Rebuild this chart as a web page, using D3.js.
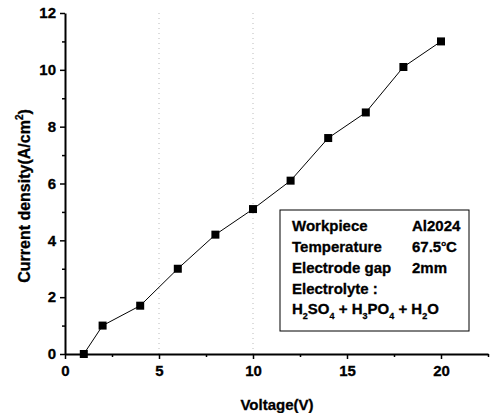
<!DOCTYPE html>
<html>
<head>
<meta charset="utf-8">
<script src="https://cdn.jsdelivr.net/npm/d3@7"></script>
<style>
  body { margin: 0; background: #fff; }
  text { font-family: "Liberation Sans", Arial, sans-serif; font-weight: bold; fill: #000; stroke: #000; stroke-width: 0.3px; }
</style>
</head>
<body>
<svg id="chart"></svg>
<script>
const width = 495;
const height = 413;

// data
const voltage = [1, 2, 4, 6, 8, 10, 12, 14, 16, 18, 20];
const current = [0, 1, 1.7, 3, 4.2, 5.1, 6.1, 7.6, 8.5, 10.1, 11];
const xTicks = [0, 5, 10, 15, 20];
const yTicks = [0, 2, 4, 6, 8, 10, 12];
const legendRows = [
    ["Workpiece", "Al2024"],
    ["Temperature", "67.5\u00B0C"],
    ["Electrode gap", "2mm"],
    ["Electrolyte :", ""]
];

const margin = { left: 65, right: 7, top: 13, bottom: 59 };

const svg = d3.select("#chart")
    .attr("width", width)
    .attr("height", height);

const x = d3.scaleLinear()
    .domain([0, 22.5])
    .range([margin.left, width - margin.right]);

const y = d3.scaleLinear()
    .domain([0, 12])
    .range([height - margin.bottom, margin.top]);

// faint dotted grid (as in the scan)
svg.selectAll("line.vgrid")
    .data([5, 10])
    .enter()
    .append("line")
    .attr("x1", d => x(d)).attr("x2", d => x(d))
    .attr("y1", y(12)).attr("y2", y(0))
    .attr("stroke", "#bbb")
    .attr("stroke-width", 1)
    .attr("stroke-dasharray", "1,4");

// x axis
svg.append("g")
    .attr("transform", `translate(0,${y(0)})`)
    .call(d3.axisBottom(x).tickValues(xTicks).tickSize(5).tickPadding(6).tickSizeOuter(0));

svg.append("g")
    .attr("transform", `translate(0,${y(0)})`)
    .call(d3.axisBottom(x).tickValues(d3.range(2.5, 22.6, 5)).tickSize(3).tickFormat("").tickSizeOuter(0))
    .select(".domain").remove();

// y axis
svg.append("g")
    .attr("transform", `translate(${x(0)},0)`)
    .call(d3.axisLeft(y).tickValues(yTicks).tickSize(5).tickPadding(4).tickSizeOuter(0));

svg.append("g")
    .attr("transform", `translate(${x(0)},0)`)
    .call(d3.axisLeft(y).tickValues(d3.range(1, 12, 2)).tickSize(3).tickFormat("").tickSizeOuter(0))
    .select(".domain").remove();

svg.selectAll(".domain").attr("stroke", "#000").attr("stroke-width", 2);
svg.selectAll(".tick line").attr("stroke", "#000").attr("stroke-width", 1.5);
svg.selectAll(".tick text")
    .style("font-family", "Liberation Sans, Arial, sans-serif")
    .style("font-weight", "bold")
    .style("font-size", "15px")
    .attr("fill", "#000");

// axis titles
svg.append("text")
    .attr("x", 277)
    .attr("y", 410)
    .attr("text-anchor", "middle")
    .style("font-size", "15px")
    .text("Voltage(V)");

const yTitle = svg.append("text")
    .attr("transform", "translate(30,196) rotate(-90)")
    .attr("text-anchor", "middle")
    .style("font-size", "16px");
yTitle.append("tspan").text("Current density(A/cm");
yTitle.append("tspan").attr("dy", -7).style("font-size", "10px").text("2");
yTitle.append("tspan").attr("dy", 7).text(")");

// line and markers
const points = voltage.map((v, i) => [v, current[i]]);

svg.append("path")
    .datum(points)
    .attr("fill", "none")
    .attr("stroke", "#000")
    .attr("stroke-width", 1)
    .attr("d", d3.line().x(d => x(d[0])).y(d => y(d[1])));

svg.selectAll("rect.pt")
    .data(points)
    .enter()
    .append("rect")
    .attr("class", "pt")
    .attr("x", d => x(d[0]) - 4)
    .attr("y", d => y(d[1]) - 4)
    .attr("width", 8)
    .attr("height", 8)
    .attr("fill", "#000");

// legend box
const lg = svg.append("g");
lg.append("rect")
    .attr("x", 280).attr("y", 210)
    .attr("width", 189).attr("height", 121)
    .attr("fill", "#fff")
    .attr("stroke", "#000")
    .attr("stroke-width", 1);

legendRows.forEach((r, i) => {
    lg.append("text")
        .attr("x", 292).attr("y", 231 + i * 21)
        .style("font-size", "15px")
        .text(r[0]);
    if (r[1]) {
        const t = lg.append("text")
            .attr("x", 412).attr("y", 231 + i * 21)
            .style("font-size", "15px");
        if (r[1].includes("\u00B0")) {
            t.append("tspan").text("67.5");
            t.append("tspan").attr("dy", -6).style("font-size", "8px").text("o");
            t.append("tspan").attr("dy", 6).text("C");
        } else {
            t.text(r[1]);
        }
    }
});

// electrolyte formula with subscripts
const formula = [["H", ""], ["2", "sub"], ["SO", ""], ["4", "sub"], [" + H", ""], ["3", "sub"],
    ["PO", ""], ["4", "sub"], [" + H", ""], ["2", "sub"], ["O", ""]];
const ft = lg.append("text")
    .attr("x", 292).attr("y", 314)
    .style("font-size", "15px");
let prevSub = false;
formula.forEach(([s, k]) => {
    const sp = ft.append("tspan").text(s);
    if (k === "sub" && !prevSub) { sp.attr("dy", 5).style("font-size", "9px"); prevSub = true; }
    else if (k !== "sub" && prevSub) { sp.attr("dy", -5); prevSub = false; }
});
</script>
</body>
</html>
